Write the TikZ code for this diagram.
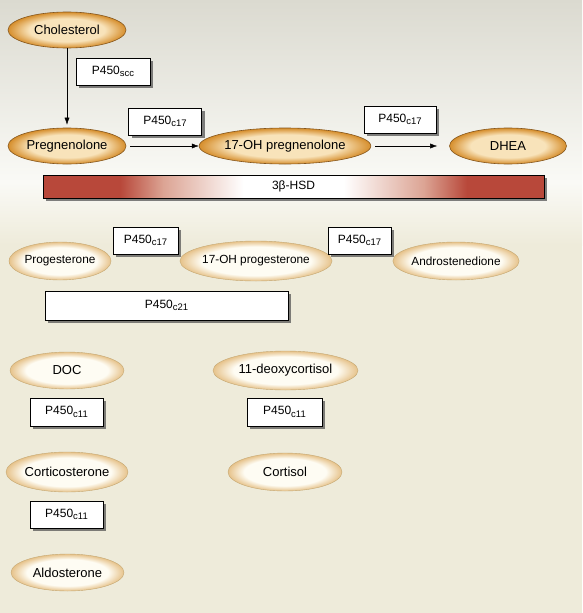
\documentclass[tikz,border=0pt]{standalone}
\usepackage{fontspec}
\setmainfont{Liberation Sans}
\usetikzlibrary{shapes.geometric,shadows,arrows.meta}

\definecolor{bgtop}{HTML}{DBDAD0}
\definecolor{bgmid}{HTML}{FAFAF6}
\definecolor{bgbottom}{HTML}{EEEBDA}
\definecolor{hsdred}{HTML}{B8483A}
\definecolor{hsdpink}{HTML}{DCA494}
\definecolor{orangecore}{HTML}{F8E3BA}
\definecolor{orangerim}{HTML}{D68E2C}
\definecolor{orangeline}{HTML}{85561C}
\definecolor{palecore}{HTML}{FEFCF3}
\definecolor{palerim}{HTML}{E6C28A}
\definecolor{paleline}{HTML}{C4A772}

\pgfdeclareradialshading{uppershade}{\pgfpoint{0bp}{0bp}}{color(0bp)=(orangecore); color(16bp)=(orangecore); color(25bp)=(orangerim); color(50bp)=(orangerim)}
\pgfdeclareradialshading{lowershade}{\pgfpoint{0bp}{0bp}}{color(0bp)=(palecore); color(18bp)=(palecore); color(25bp)=(palerim); color(50bp)=(palerim)}
\pgfdeclarehorizontalshading{hsdshade}{100bp}{color(0bp)=(hsdred); color(32.7bp)=(hsdred); color(37bp)=(hsdpink); color(45bp)=(white); color(55bp)=(white); color(63bp)=(hsdpink); color(67.3bp)=(hsdred); color(100bp)=(hsdred)}

\newcommand{\enz}[1]{P450\raisebox{-2.5pt}{\fontsize{9.5}{10}\selectfont #1}}

\tikzset{
  upper/.style={ellipse, draw=orangeline, line width=0.6pt, shading=uppershade,
    inner sep=0pt, minimum height=36pt, font=\fontsize{13}{15}\selectfont},
  lower/.style={ellipse, draw=paleline, line width=0.4pt, shading=lowershade,
    inner sep=0pt, minimum height=38pt, font=\fontsize{13}{15}\selectfont},
  enzyme/.style={draw=black, line width=0.8pt, fill=white, inner sep=0pt,
    minimum width=72pt, minimum height=27pt, font=\fontsize{12}{14}\selectfont,
    drop shadow={shadow xshift=3pt, shadow yshift=-3pt, fill=black!70, opacity=.7}},
  hsdbar/.style={draw=black, line width=0.8pt, shading=hsdshade, inner sep=0pt,
    minimum width=501pt, minimum height=23pt, font=\fontsize{12}{14}\selectfont,
    drop shadow={shadow xshift=3pt, shadow yshift=-3pt, fill=black!70, opacity=.7}}
}

\begin{document}
\begin{tikzpicture}[x=1pt, y=-1pt, >={Latex[length=7pt,width=5pt]}]
        % background
        \fill[top color=bgtop, bottom color=bgmid] (0,0) rectangle (582,182);
        \fill[top color=bgmid, bottom color=bgbottom] (0,182) rectangle (582,245);
        \fill[bgbottom] (0,245) rectangle (582,613);
        \useasboundingbox (0,0) rectangle (582,613);

        \node[upper, minimum width=118pt] (cholesterol) at (67,30) {Cholesterol};
        \node[upper, minimum width=118pt] (pregnenolone) at (67,146) {Pregnenolone};
        \node[upper, minimum width=164pt] (ohpreg) at (285,146) {17-OH pregnenolone};
        \node[upper, minimum width=117pt] (dhea) at (508,146) {DHEA};

        \node[enzyme, minimum width=74pt] (scc) at (113,71.5) {\enz{scc}};
        \node[enzyme, minimum width=73pt] (cseventeena) at (165,121.5) {\enz{c17}};
        \node[enzyme] (cseventeenb) at (400,119.5) {\enz{c17}};

        \draw[->, shorten >=3pt] (cholesterol) -- (pregnenolone);
        \draw[->, shorten <=4pt] (pregnenolone) -- (ohpreg);
        \draw[->, shorten <=4pt, shorten >=12pt] (ohpreg) -- (dhea);

        \node[hsdbar] (hsd) at (293.5,186.5) {3β-HSD};

        \node[lower, minimum width=102pt, font=\fontsize{11.8}{14}\selectfont] (progesterone) at (60,261) {Progesterone};
        \node[lower, minimum width=144pt, minimum height=40pt, font=\fontsize{11.8}{14}\selectfont] (ohprog) at (256,261) {17-OH progesterone};
        \node[lower, minimum width=125pt, font=\fontsize{11.8}{14}\selectfont] (androstenedione) at (456,261) {Androstenedione};
        \node[enzyme, minimum width=65pt] (cseventeenc) at (145.5,240.5) {\enz{c17}};
        \node[enzyme, minimum width=63pt] (cseventeend) at (359.5,240.5) {\enz{c17}};
        \node[enzyme, minimum width=243pt, minimum height=29pt] (ctwentyone) at (166.5,305.5) {\enz{c21}};

        \node[lower, minimum width=114pt, minimum height=37pt] (doc) at (67,370.5) {DOC};
        \node[lower, minimum width=145pt, minimum height=39pt] (deoxycortisol) at (285.5,370.5) {11-deoxycortisol};
        \node[enzyme, minimum width=73pt, minimum height=28pt] (celevena) at (66.5,412) {\enz{c11}};
        \node[enzyme, minimum width=75pt, minimum height=28pt] (celevenb) at (284.5,412) {\enz{c11}};
        \node[lower, minimum width=122pt, minimum height=40pt] (corticosterone) at (67,472) {Corticosterone};
        \node[lower, minimum width=114pt] (cortisol) at (285,472) {Cortisol};
        \node[enzyme, minimum width=73pt] (celevenc) at (66.5,514.5) {\enz{c11}};
        \node[lower, minimum width=113pt, minimum height=37pt] (aldosterone) at (67.5,572.5) {Aldosterone};
    \end{tikzpicture}
\end{document}
